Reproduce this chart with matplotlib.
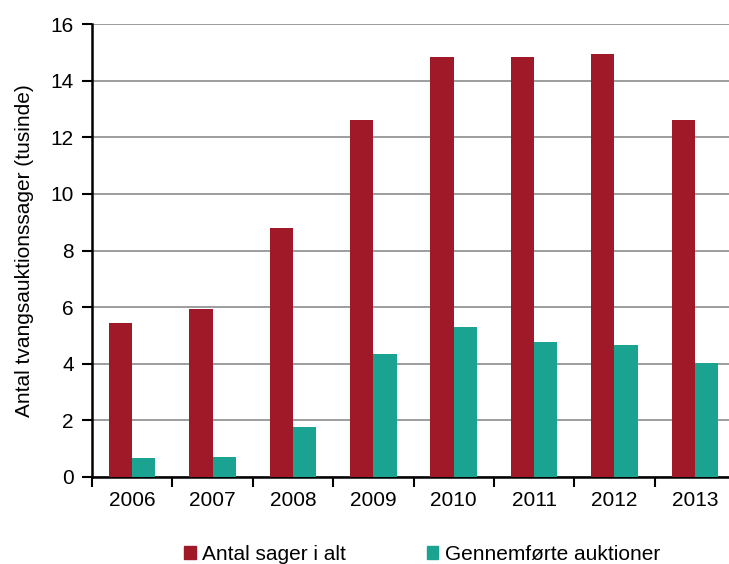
import numpy as np
import matplotlib.pyplot as plt
from matplotlib.patches import Patch

years = ["2006", "2007", "2008", "2009", "2010", "2011", "2012", "2013"]
antal_sager = [5.45, 5.92, 8.8, 12.6, 14.82, 14.85, 14.93, 12.6]
auktioner = [0.68, 0.7, 1.75, 4.35, 5.3, 4.78, 4.67, 4.03]

red = "#A01929"
teal = "#1AA391"

plt.rcParams['font.family'] = ['Liberation Sans', 'DejaVu Sans']

fig = plt.figure(figsize=(7.29, 5.64), dpi=100)
ax = fig.add_axes([92 / 729, 1 - 477 / 564, 643 / 729, 453 / 564])

x = np.arange(len(years))
w = 0.29
ax.bar(x - w / 2, antal_sager, w, color=red, zorder=3)
ax.bar(x + w / 2, auktioner, w, color=teal, zorder=3)

ax.set_xlim(-0.5, len(years) - 0.5)
ax.set_ylim(0, 16)
ax.set_yticks(range(0, 17, 2))
ax.yaxis.grid(True, color="#8c8c8c", linewidth=1.2, zorder=0)

# ticks between the categories, labels centred under them
ax.set_xticks(np.arange(-0.5, len(years), 1))
ax.set_xticklabels([])
ax.set_xticks(x, minor=True)
ax.set_xticklabels(years, minor=True, fontsize=15)
ax.tick_params(axis="x", which="minor", length=0, pad=10)
ax.tick_params(axis="x", which="major", length=7, width=1.5, direction="out")
ax.tick_params(axis="y", length=7, width=1.5, labelsize=15, pad=6)

for s in ["top", "right"]:
    ax.spines[s].set_visible(False)
ax.spines["left"].set_linewidth(1.8)
ax.spines["bottom"].set_linewidth(1.8)

ax.set_ylabel("Antal tvangsauktionssager (tusinde)", fontsize=15, labelpad=12)

handles = [Patch(color=red, label="Antal sager i alt"),
           Patch(color=teal, label="Gennemførte auktioner")]
fig.legend(handles=handles, loc="center", bbox_to_anchor=(0.579, 0.017), ncol=2,
           frameon=False, fontsize=15, handlelength=0.55, handleheight=0.55,
           handletextpad=0.3, columnspacing=3.9)

fig.savefig("out.png", dpi=100)
